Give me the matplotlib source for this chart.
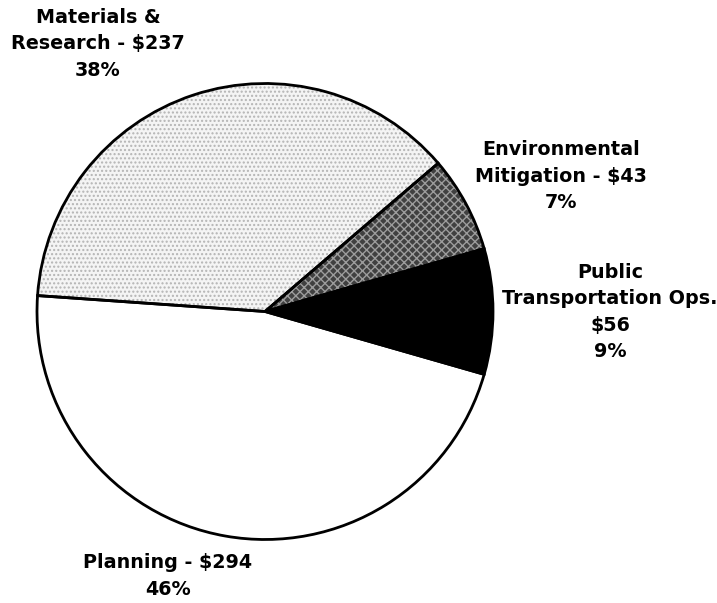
import matplotlib
matplotlib.use("Agg")
import matplotlib.pyplot as plt

# budget by program area ($ millions)
categories = ["Materials & Research", "Environmental Mitigation",
              "Public Transportation Ops.", "Planning"]
values = [237, 43, 56, 294]
percents = [38, 7, 9, 46]
label_texts = ["Materials &\nResearch - $237\n38%",
               "Environmental\nMitigation - $43\n7%",
               "Public\nTransportation Ops.\n$56\n9%",
               "Planning - $294\n46%"]

fill_colors = ["#f4f4f4", "#404040", "#000000", "#ffffff"]
hatch_colors = ["#b4b4b4", "#9c9c9c", "#000000", "#ffffff"]
hatches = ["....", "xxxx", "", ""]

# label centres in pixel coords (x from left, y from top)
label_pos = [(98, 44), (561, 176), (610, 312), (168, 576)]

W, H = 717, 603
fig = plt.figure(figsize=(W / 100, H / 100), dpi=100)
ax = fig.add_axes([0, 0, 1, 1])

center = (265, H - 311.5)
radius = 228

wedges, _ = ax.pie(values, colors=fill_colors, startangle=176,
                   counterclock=False, center=center, radius=radius,
                   wedgeprops=dict(linewidth=0))
for w, hc, h in zip(wedges, hatch_colors, hatches):
    w.set_edgecolor(hc)
    w.set_hatch(h)

# outlines on top
ax.pie(values, startangle=176, counterclock=False, center=center, radius=radius,
       wedgeprops=dict(fill=False, edgecolor="black", linewidth=2))

for txt, (x, y) in zip(label_texts, label_pos):
    ax.text(x, H - y, txt, ha="center", va="center", fontsize=13.8,
            fontweight="bold", linespacing=1.5, family="DejaVu Sans")

ax.set_xlim(0, W)
ax.set_ylim(0, H)
ax.set_aspect("equal")
ax.axis("off")

fig.savefig("out.png", dpi=100)
